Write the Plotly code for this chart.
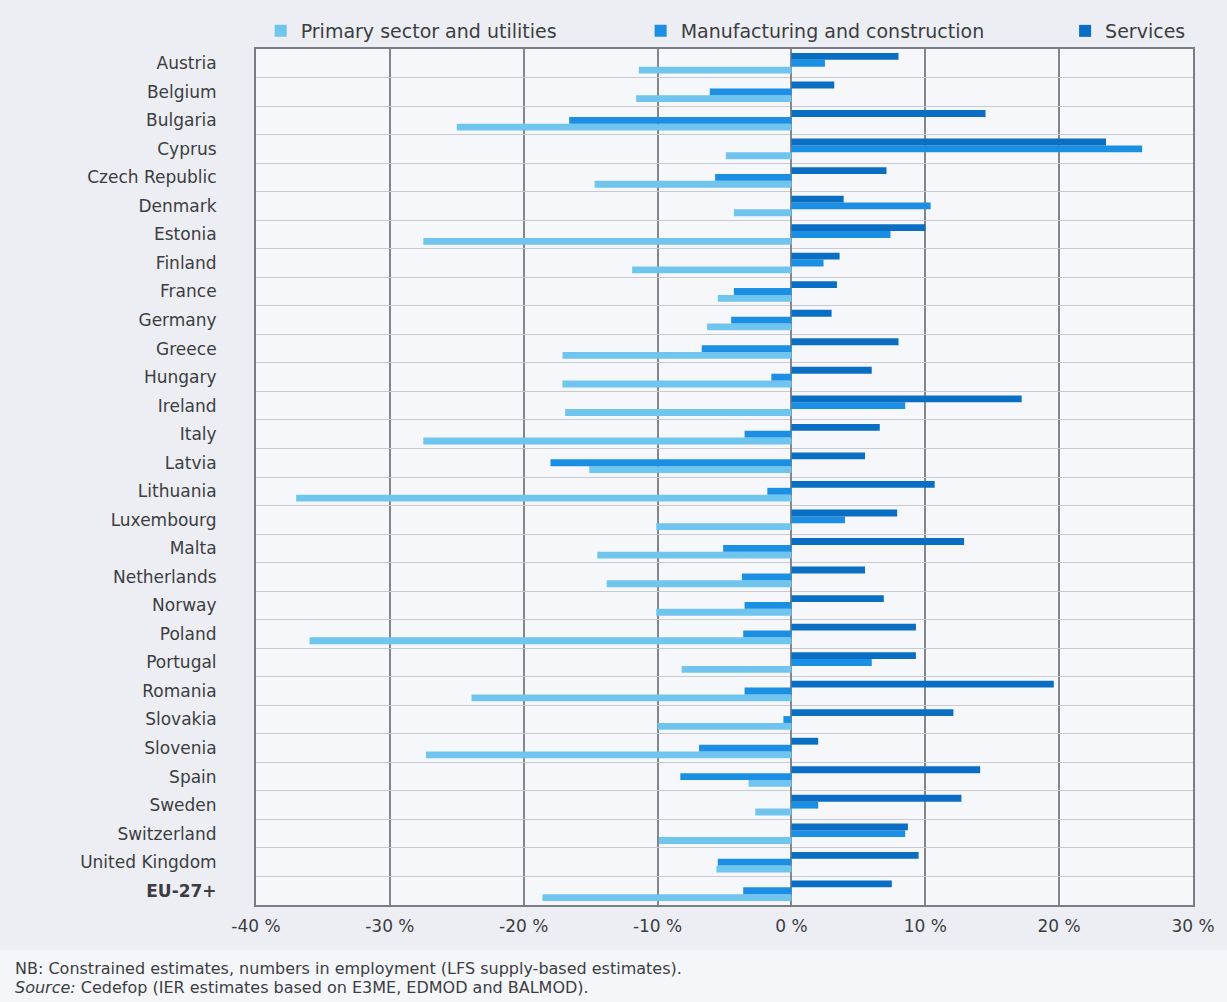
"""Employment change by sector and country: grouped horizontal bars."""
import plotly.graph_objects as go

COUNTRIES = [
    "Austria", "Belgium", "Bulgaria", "Cyprus", "Czech Republic", "Denmark",
    "Estonia", "Finland", "France", "Germany", "Greece", "Hungary", "Ireland",
    "Italy", "Latvia", "Lithuania", "Luxembourg", "Malta", "Netherlands",
    "Norway", "Poland", "Portugal", "Romania", "Slovakia", "Slovenia", "Spain",
    "Sweden", "Switzerland", "United Kingdom", "EU-27+",
]

PRIMARY = [
    -11.4, -11.6, -25.0, -4.9, -14.7, -4.3, -27.5, -11.9, -5.5, -6.3,
    -17.1, -17.1, -16.9, -27.5, -15.1, -37.0, -10.1, -14.5, -13.8, -10.1,
    -36.0, -8.2, -23.9, -10.0, -27.3, -3.2, -2.7, -9.9, -5.6, -18.6,
]
MANUFACTURING = [
    2.5, -6.1, -16.6, 26.2, -5.7, 10.4, 7.4, 2.4, -4.3, -4.5,
    -6.7, -1.5, 8.5, -3.5, -18.0, -1.8, 4.0, -5.1, -3.7, -3.5,
    -3.6, 6.0, -3.5, -0.6, -6.9, -8.3, 2.0, 8.5, -5.5, -3.6,
]
SERVICES = [
    8.0, 3.2, 14.5, 23.5, 7.1, 3.9, 10.0, 3.6, 3.4, 3.0,
    8.0, 6.0, 17.2, 6.6, 5.5, 10.7, 7.9, 12.9, 5.5, 6.9,
    9.3, 9.3, 19.6, 12.1, 2.0, 14.1, 12.7, 8.7, 9.5, 7.5,
]

X_TICKS = [-40, -30, -20, -10, 0, 10, 20, 30]
X_TICK_TEXT = [f"{v} %" for v in X_TICKS]

SERIES = [
    ("Primary sector and utilities", PRIMARY, "#70c5ee", "legend", 0.005),
    ("Manufacturing and construction", MANUFACTURING, "#1a8fe3", "legend2", 0.4105),
    ("Services", SERVICES, "#0a6fc3", "legend3", 0.8635),
]

FONT = "DejaVu Sans, Verdana, sans-serif"
TEXT_COLOR = "#3c3d41"

tick_text = [f"<b>{c}</b>" if c.startswith("EU") else c for c in COUNTRIES]

fig = go.Figure()
legends = {}
for name, values, color, legend_id, legend_x in SERIES:
    fig.add_trace(
        go.Bar(
            x=values,
            y=COUNTRIES,
            name=name,
            orientation="h",
            legend=legend_id,
            showlegend=True,
            marker=dict(color=color, line=dict(width=0)),
        )
    )
    legends[legend_id] = dict(
        orientation="h",
        x=legend_x, y=1.021,
        xanchor="left", yanchor="middle",
        bgcolor="rgba(0,0,0,0)",
        font=dict(size=19, color=TEXT_COLOR, family=FONT),
    )

# lighter band behind the footnote
fig.add_shape(
    type="rect", xref="paper", yref="paper",
    x0=-0.28, x1=1.04, y0=-0.053, y1=-0.12,
    fillcolor="#f5f6fa", line=dict(width=0), layer="below",
)

fig.add_annotation(
    text="NB: Constrained estimates, numbers in employment (LFS supply-based estimates).",
    xref="paper", yref="paper", x=-0.259, y=-0.0736,
    xanchor="left", yanchor="middle", showarrow=False,
    font=dict(size=16, color=TEXT_COLOR, family=FONT),
)
fig.add_annotation(
    text="<i>Source:</i> Cedefop (IER estimates based on E3ME, EDMOD and BALMOD).",
    xref="paper", yref="paper", x=-0.259, y=-0.0958,
    xanchor="left", yanchor="middle", showarrow=False,
    font=dict(size=16, color=TEXT_COLOR, family=FONT),
)

fig.update_layout(
    width=1227,
    height=1002,
    margin=dict(l=256, r=31, t=49, b=97),
    paper_bgcolor="#eceef4",
    plot_bgcolor="#f6f7fb",
    barmode="group",
    bargap=0.28,
    bargroupgap=0,
    showlegend=True,
    font=dict(family=FONT, size=17, color=TEXT_COLOR),
    xaxis=dict(
        range=[-40, 30],
        tickvals=X_TICKS,
        ticktext=X_TICK_TEXT,
        showgrid=True,
        gridcolor="#83868c",
        gridwidth=1.5,
        zeroline=True,
        zerolinecolor="#83868c",
        zerolinewidth=1.5,
        showline=True,
        linecolor="#7a7d83",
        linewidth=2,
        mirror=True,
        ticks="",
        ticklabelstandoff=5,
        tickfont=dict(size=17),
    ),
    yaxis=dict(
        type="category",
        categoryorder="array",
        categoryarray=COUNTRIES[::-1],
        tickvals=COUNTRIES,
        ticktext=tick_text,
        tickson="boundaries",
        showgrid=True,
        gridcolor="#c8cacf",
        gridwidth=1,
        showline=True,
        linecolor="#7a7d83",
        linewidth=2,
        mirror=True,
        ticks="",
        ticklabelstandoff=34,
        tickfont=dict(size=17),
    ),
    **legends,
)

fig.write_html(
    "out.html",
    config={"displayModeBar": False},
    post_script="document.body.style.margin = '0';",
)
